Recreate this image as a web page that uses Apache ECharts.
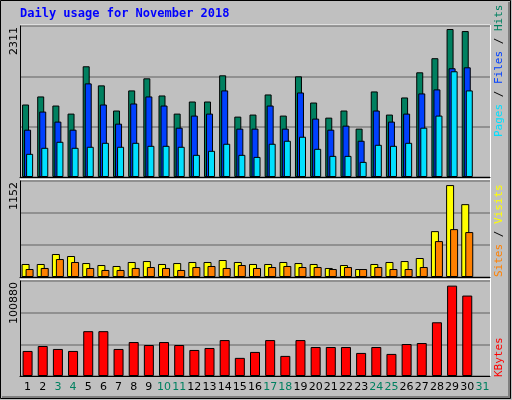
<!DOCTYPE html>
<html><head><meta charset="utf-8">
<script src="https://cdn.jsdelivr.net/npm/echarts@6/dist/echarts.min.js"></script>
<style>html,body{margin:0;padding:0;background:#C0C0C0}#c{width:512px;height:400px}</style>
</head><body><div id="c"></div>
<script>
const days = ['1','2','3','4','5','6','7','8','9','10','11','12','13','14','15','16','17','18','19','20','21','22','23','24','25','26','27','28','29','30','31'];
const weekend = ['3','4','10','11','17','18','24','25','31'];
const hits = [1132,1258,1116,990,1729,1431,1038,1352,1541,1273,990,1179,1179,1588,943,975,1289,959,1572,1163,927,1038,755,1336,975,1242,1635,1855,2311,2279,null];
const files = [739,1022,865,739,1462,1132,833,1148,1258,1116,770,959,990,1352,755,755,1116,755,1320,912,739,802,566,1038,865,990,1305,1368,1698,1713,null];
const pages = [362,456,550,456,472,534,472,534,487,487,472,346,409,519,346,314,519,566,629,440,330,330,236,503,487,534,770,959,1651,1352,null];
const visits = [163,163,288,263,175,150,138,188,200,163,175,188,188,213,188,163,163,188,175,163,113,150,100,163,188,200,238,575,1152,913,null];
const sites = [100,113,225,188,113,88,88,113,125,113,88,125,138,113,150,113,125,138,125,125,100,125,100,125,100,100,125,450,600,563,null];
const kbytes = [27968,33488,30176,27968,50048,50048,30176,37904,34592,37904,34592,29072,31280,40112,20240,26864,40112,22448,40112,32384,32384,32384,25760,32384,24656,35696,36800,59984,100880,89792,null];
const maxLabels = ['2311','1152','100880'];

const chart = echarts.init(document.getElementById('c'));
const L=20,R=22;
const grids=[{left:L,right:R,top:26,height:151},{left:L,right:R,top:181,height:96},{left:L,right:R,top:281,height:95}];
const maxes=[2358,1203,106050];
const xAxes=grids.map((g,i)=>({gridIndex:i,type:'category',data:days,axisTick:{show:false},
  axisLine:{show:true,lineStyle:{color:'#000',width:1}},
  axisLabel:i<2?{show:false}:{show:true,interval:0,margin:6,fontFamily:'DejaVu Sans',fontSize:11,
    formatter:v=>weekend.includes(v)?'{w|'+v+'}':'{n|'+v+'}',
    rich:{n:{color:'#000',fontFamily:'DejaVu Sans',fontSize:11},w:{color:'#008060',fontFamily:'DejaVu Sans',fontSize:11}}}}));
const yAxes=grids.map((g,i)=>({gridIndex:i,type:'value',min:0,max:maxes[i],interval:maxes[i]/3,
  axisLabel:{show:false},axisLine:{show:true,lineStyle:{color:'#000'}},axisTick:{show:false},
  splitLine:{show:true,lineStyle:{color:'#808080',width:1.5}}}));
const bs=(name,data,color,xi,w,gap)=>({name,type:'bar',data,xAxisIndex:xi,yAxisIndex:xi,barWidth:w,barGap:gap,
  itemStyle:{color,borderColor:'#000',borderWidth:1},animation:false,silent:true});
const txt=(x,y,rich,extra)=>Object.assign({type:'text',x,y,rotation:Math.PI/2,style:Object.assign({font:'11px DejaVu Sans Mono'},rich)},extra||{});
chart.setOption({
  animation:false,
  backgroundColor:'#C0C0C0',
  grid:grids,xAxis:xAxes,yAxis:yAxes,
  series:[
    bs('Hits',hits,'#008060',0,7,'-71%'),
    bs('Files',files,'#0040FF',0,7,'-71%'),
    bs('Pages',pages,'#00E0FF',0,7,'-71%'),
    bs('Visits',visits,'#FFFF00',1,8,'-50%'),
    bs('Sites',sites,'#FF8000',1,8,'-50%'),
    bs('KBytes',kbytes,'#FF0000',2,10,'0%')
  ],
  graphic:[
    {type:'rect',shape:{x:0.5,y:0.5,width:510,height:398},style:{fill:'none',stroke:'#000',lineWidth:1}},
    {type:'polyline',shape:{points:[[2,397],[509,397],[509,2]]},style:{stroke:'#808080',lineWidth:2,fill:'none'}},
    {type:'text',x:20,y:8,style:{text:'Daily usage for November 2018',font:'bold 12px DejaVu Sans Mono',fill:'#0000FF'}},
    {type:'line',shape:{x1:20,y1:25,x2:490,y2:25},style:{stroke:'#fff',lineWidth:1}},
    {type:'line',shape:{x1:20,y1:179.5,x2:490,y2:179.5},style:{stroke:'#fff',lineWidth:1}},
    {type:'line',shape:{x1:20,y1:279.5,x2:490,y2:279.5},style:{stroke:'#fff',lineWidth:1}},
    {type:'line',shape:{x1:490.5,y1:25,x2:490.5,y2:377},style:{stroke:'#fff',lineWidth:1}},
    {type:'text',x:20,y:27,rotation:Math.PI/2,style:{text:maxLabels[0],font:'11px DejaVu Sans',fill:'#000',align:'right',verticalAlign:'bottom'}},
    {type:'text',x:20,y:182,rotation:Math.PI/2,style:{text:maxLabels[1],font:'11px DejaVu Sans',fill:'#000',align:'right',verticalAlign:'bottom'}},
    {type:'text',x:20,y:282,rotation:Math.PI/2,style:{text:maxLabels[2],font:'11px DejaVu Sans',fill:'#000',align:'right',verticalAlign:'bottom'}},
    {type:'text',x:494,y:137,rotation:Math.PI/2,style:{text:'{p|Pages}{s| / }{f|Files}{s| / }{h|Hits}',font:'11px DejaVu Sans Mono',verticalAlign:'top',align:'left',
      rich:{p:{fill:'#00E0FF',font:'11px DejaVu Sans Mono'},f:{fill:'#0040FF',font:'11px DejaVu Sans Mono'},h:{fill:'#008060',font:'11px DejaVu Sans Mono'},s:{fill:'#000',font:'11px DejaVu Sans Mono'}}}},
    {type:'text',x:494,y:277,rotation:Math.PI/2,style:{text:'{o|Sites}{s| / }{y|Visits}',font:'11px DejaVu Sans Mono',verticalAlign:'top',align:'left',
      rich:{o:{fill:'#FF8000',font:'11px DejaVu Sans Mono'},y:{fill:'#FFFF00',font:'11px DejaVu Sans Mono'},s:{fill:'#000',font:'11px DejaVu Sans Mono'}}}},
    {type:'text',x:494,y:377,rotation:Math.PI/2,style:{text:'KBytes',font:'11px DejaVu Sans Mono',fill:'#FF0000',verticalAlign:'top',align:'left'}}
  ]
});
</script></body></html>
